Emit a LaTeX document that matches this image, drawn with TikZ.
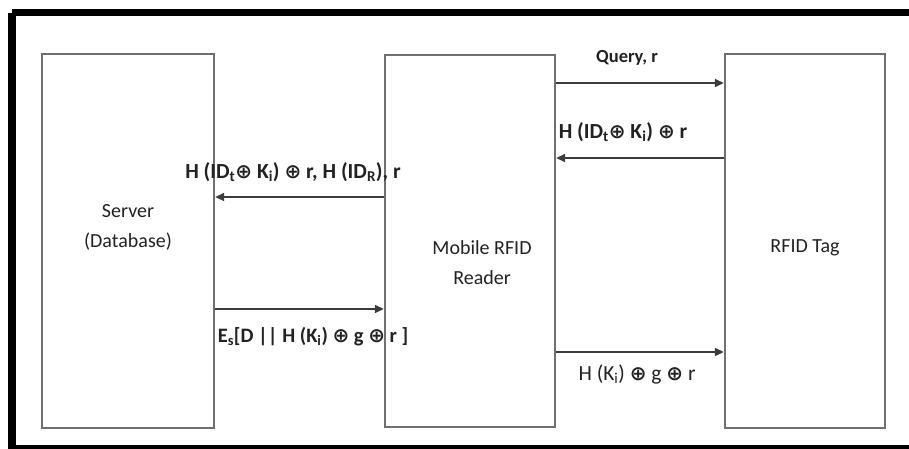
\documentclass[tikz,border=0pt]{standalone}
\usepackage{fontspec}
\setmainfont{Carlito}
\newfontfamily\symfont{DejaVu Sans}
\usetikzlibrary{arrows.meta}
\definecolor{boxgray}{HTML}{707070}
\definecolor{arrgray}{HTML}{3C3C3C}
\definecolor{txt}{HTML}{222222}
\newcommand{\xo}{{\symfont\bfseries\fontsize{20}{22}\selectfont ⊕}}
\tikzset{
  entity/.style={draw=boxgray, line width=2.4pt, rectangle, inner sep=0pt},
  boxtext/.style={align=center, text=txt, font=\fontsize{20}{30}\selectfont, inner sep=0pt},
  msg/.style={text=txt, font=\bfseries\fontsize{21.5}{24}\selectfont, inner sep=0pt},
  arr/.style={draw=arrgray, line width=1.8pt, -{Triangle[length=9pt,width=8pt]}}
}
\begin{document}
\begin{tikzpicture}[x=1pt,y=-1pt]
\useasboundingbox (0,0) rectangle (909,448);
\begin{scope}
\clip (0,0) rectangle (909,448);
\draw[line width=7.5pt] (12,12.5) -- (12,448.5) (12,12.5) -- (920,12.5) (12,448.5) -- (920,448.5);
\end{scope}
% entities
\node[entity, minimum width=172pt, minimum height=374pt] (server) at (128,241) {};
\node[entity, minimum width=170pt, minimum height=372pt] (reader) at (470,241) {};
\node[entity, minimum width=160pt, minimum height=374pt] (tag) at (805,241) {};
\node[boxtext] (servertxt) at (128,227) {Server\\(Database)};
\node[boxtext] (readertxt) at (482,263) {Mobile RFID\\Reader};
\node[boxtext] (tagtxt) at (805,248) {RFID Tag};
% messages
\draw[arr] (reader.east |- 0,83) -- (tag.west |- 0,83);
\node[msg, font=\bfseries\fontsize{18.5}{22}\selectfont] (m1) at (627,58) {Query, r};
\draw[arr] (tag.west |- 0,158) -- (reader.east |- 0,158);
\node[msg] (m2) at (623,132) {H (ID\textsubscript{t}\xo\ K\textsubscript{i}) \xo\ r};
\draw[arr] (reader.west |- 0,197) -- (server.east |- 0,197);
\node[msg] (m3) at (293,172) {H (ID\textsubscript{t}\xo\ K\textsubscript{i}) \xo\ r,\ H (ID\textsubscript{R}), r};
\draw[arr] (server.east |- 0,309) -- (reader.west |- 0,309);
\node[msg, font=\bfseries\fontsize{20.5}{24}\selectfont] (m4) at (313,337) {E\textsubscript{s}[D || H (K\textsubscript{i}) \xo\ g \xo\ r ]};
\draw[arr] (reader.east |- 0,352) -- (tag.west |- 0,352);
\node[msg, font=\fontsize{21.5}{24}\selectfont] (m5) at (637,374) {H (K\textsubscript{i}) \xo\ g \xo\ r};
\end{tikzpicture}
\end{document}
